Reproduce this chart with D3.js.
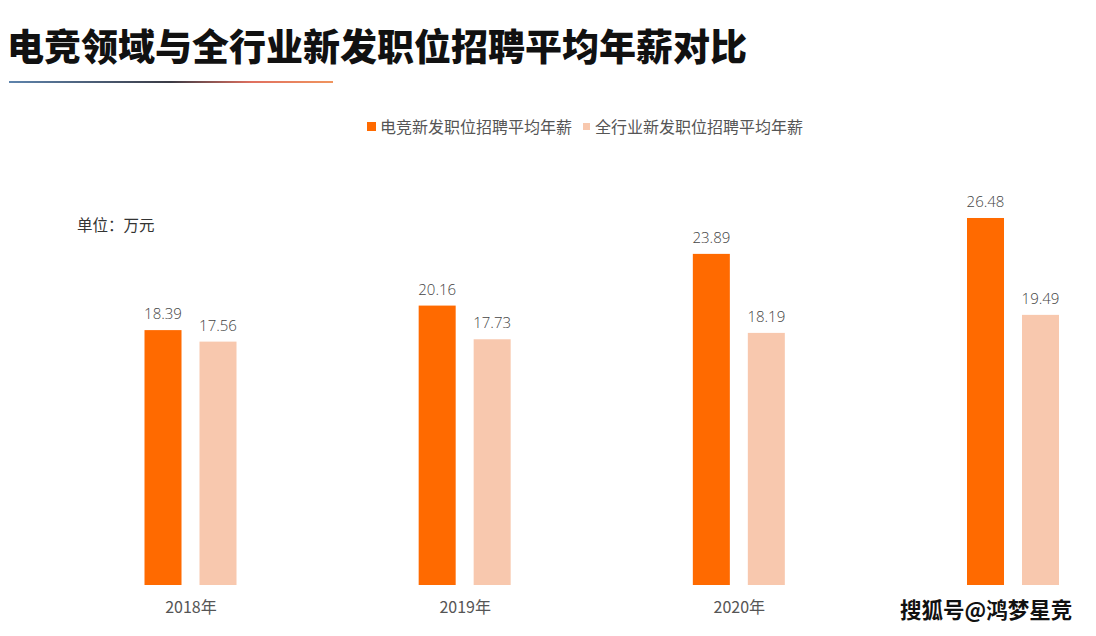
<!DOCTYPE html>
<html><head><meta charset="utf-8">
<script src="https://cdn.jsdelivr.net/npm/d3@7"></script>
<style>
html,body{margin:0;padding:0;background:#fff;}
svg{display:block;font-family:"Noto Sans CJK SC","Noto Sans",sans-serif;}
</style></head>
<body><svg id="c" width="1096" height="636"></svg>
<script>
const title = "电竞领域与全行业新发职位招聘平均年薪对比";
const unitLabel = "单位：万元";
const categories = ["2018年", "2019年", "2020年", "2021年"];
const seriesNames = ["电竞新发职位招聘平均年薪", "全行业新发职位招聘平均年薪"];
const esportsValues = [18.39, 20.16, 23.89, 26.48];
const allIndustryValues = [17.56, 17.73, 18.19, 19.49];
const colors = ["#FF6A00", "#F8C8AE"];
const watermark = "搜狐号@鸿梦星竞";

const svg = d3.select("#c");

// Title
svg.append("text").attr("x", 7).attr("y", 61)
  .attr("font-size", 37).attr("font-weight", 900).attr("fill", "#111")
  .text(title);

// gradient underline
const defs = svg.append("defs");
const g = defs.append("linearGradient").attr("id", "ul");
g.append("stop").attr("offset", "0%").attr("stop-color", "#5E84AD");
g.append("stop").attr("offset", "50%").attr("stop-color", "#3a3a44");
g.append("stop").attr("offset", "75%").attr("stop-color", "#E07060");
g.append("stop").attr("offset", "100%").attr("stop-color", "#F0955E");
svg.append("rect").attr("x", 9).attr("y", 81).attr("width", 324).attr("height", 2)
  .attr("fill", "url(#ul)");

// Legend
const legend = svg.append("g").attr("font-size", 16).attr("fill", "#555");
legend.append("rect").attr("x", 367).attr("y", 122).attr("width", 9).attr("height", 9).attr("fill", colors[0]);
legend.append("text").attr("x", 380).attr("y", 133).text(seriesNames[0]);
legend.append("rect").attr("x", 583).attr("y", 123).attr("width", 7).attr("height", 7).attr("fill", colors[1]);
legend.append("text").attr("x", 595).attr("y", 133).text(seriesNames[1]);

// Unit
svg.append("text").attr("x", 77).attr("y", 231).attr("font-size", 15.5).attr("fill", "#333").text(unitLabel);

// Scales
const x = d3.scalePoint().domain(categories).range([190.5, 1013]);
const xi = d3.scaleBand().domain([0, 1]).range([-46, 46]).paddingInner(0.327).paddingOuter(0);
const y = d3.scaleLinear().domain([0, 30]).range([585, 585 - 30 * 13.86]);

const data = categories.map((c, i) => ({ c, vals: [esportsValues[i], allIndustryValues[i]] }));

const groups = svg.append("g").selectAll("g").data(data).join("g")
  .attr("transform", d => `translate(${x(d.c)},0)`);

groups.selectAll("rect").data(d => d.vals.map((v, k) => ({ v, k }))).join("rect")
  .attr("x", d => xi(d.k)).attr("width", xi.bandwidth())
  .attr("y", d => y(d.v)).attr("height", d => y(0) - y(d.v))
  .attr("fill", d => colors[d.k]);

groups.selectAll("text.val").data(d => d.vals.map((v, k) => ({ v, k }))).join("text")
  .attr("class", "val")
  .attr("x", d => xi(d.k) + xi.bandwidth() / 2).attr("y", d => y(d.v) - 11)
  .attr("text-anchor", "middle").attr("font-size", 15).attr("fill", "#444")
  .attr("font-family", "'Open Sans','DejaVu Sans',sans-serif").attr("font-weight", 300)
  .text(d => d.v.toFixed(2));

// x axis labels (the last one is hidden under the watermark in the source)
const xAxis = d3.axisBottom(x).tickSize(0).tickPadding(0).tickValues(categories.slice(0, 3));
const ax = svg.append("g").attr("transform", "translate(0,602)").call(xAxis);
ax.select(".domain").remove();
ax.selectAll("text").attr("font-size", 16).attr("fill", "#555")
  .attr("font-family", "'Noto Sans CJK SC',sans-serif").attr("dy", "0.71em");

// watermark
svg.append("text").attr("x", 900).attr("y", 618).attr("font-size", 21.5).attr("font-weight", 700)
  .attr("fill", "#111").attr("stroke", "#fff").attr("stroke-width", 6)
  .attr("paint-order", "stroke").attr("stroke-linejoin", "round")
  .text(watermark);
</script></body></html>
